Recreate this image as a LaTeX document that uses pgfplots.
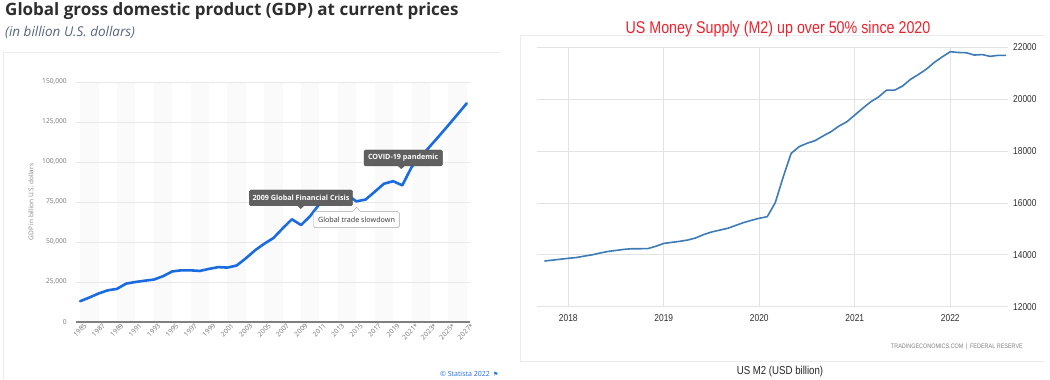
\documentclass[border=0pt]{standalone}
\usepackage{pgfplots}
\pgfplotsset{compat=1.18}
\usepackage{fontspec}
\setmainfont{Open Sans}
\newfontfamily\te{Liberation Sans}[FakeStretch=0.84]
\newfontfamily\djsym{DejaVu Sans}
\definecolor{gdpblue}{HTML}{1A6BE0}
\definecolor{subcol}{HTML}{56657F}
\definecolor{mred}{HTML}{F0202A}
\definecolor{m2blue}{HTML}{3C7BB6}
\definecolor{boxgray}{HTML}{606060}
\definecolor{stablue}{HTML}{1A6BE0}
\definecolor{band}{HTML}{FAFAFA}

\pgfplotstableread{
year gdp
1985 13000
1986 15300
1987 17800
1988 19800
1989 20700
1990 24000
1991 25000
1992 25800
1993 26500
1994 28600
1995 31600
1996 32300
1997 32300
1998 31900
1999 33200
2000 34300
2001 34000
2002 35300
2003 39800
2004 44800
2005 48900
2006 52500
2007 58500
2008 64200
2009 60600
2010 66300
2011 73800
2012 75300
2013 77500
2014 79600
2015 75400
2016 76500
2017 81400
2018 86400
2019 88000
2020 85400
2021 96800
2022 103300
2023 109800
2024 116300
2025 123000
2026 129800
2027 136700
}\gdptable

\pgfplotstableread{
t m2
2017.750 13760
2017.833 13795
2017.917 13830
2018.000 13865
2018.083 13895
2018.167 13950
2018.250 14000
2018.333 14070
2018.417 14130
2018.500 14170
2018.583 14210
2018.667 14235
2018.750 14235
2018.833 14240
2018.917 14330
2019.000 14440
2019.083 14480
2019.167 14520
2019.250 14570
2019.333 14650
2019.417 14780
2019.500 14880
2019.583 14950
2019.667 15020
2019.750 15130
2019.833 15240
2019.917 15330
2020.000 15410
2020.083 15470
2020.167 16010
2020.250 17000
2020.333 17910
2020.417 18170
2020.500 18300
2020.583 18400
2020.667 18580
2020.750 18745
2020.833 18960
2020.917 19130
2021.000 19390
2021.083 19650
2021.167 19900
2021.250 20090
2021.333 20350
2021.417 20350
2021.500 20505
2021.583 20765
2021.667 20955
2021.750 21160
2021.833 21420
2021.917 21635
2022.000 21830
2022.083 21800
2022.167 21790
2022.250 21700
2022.333 21720
2022.417 21650
2022.500 21690
2022.583 21690
}\mtwotable

\begin{document}
\begin{tikzpicture}
\path[use as bounding box] (0,0) rectangle (1050pt,380pt);

% ---------- left card ----------
\draw[black!7, line width=1pt] (3.5pt,0pt) -- (3.5pt,327pt) -- (500pt,327pt);
\node[anchor=base west, inner sep=0pt, font=\fontsize{17}{20}\selectfont\bfseries, text=black!82] at (5pt,364pt) {Global gross domestic product (GDP) at current prices};
\node[anchor=base west, inner sep=0pt, font=\fontsize{13.5}{16}\selectfont\itshape, text=subcol] at (5pt,343pt) {(in billion U.S. dollars)};

\begin{axis}[at={(76pt,58pt)}, anchor=south west, scale only axis,
  width=394pt, height=240pt,
  xmin=1984.55, xmax=2027.35, ymin=0, ymax=150000,
  scaled ticks=false, axis on top,
  axis x line*=bottom, axis y line*=left,
  x axis line style={-, draw=black!50, line width=1.2pt},
  y axis line style={draw=none},
  major tick length=0pt,
  ytick={0,25000,50000,75000,100000,125000,150000},
  yticklabels={0,{25,000},{50,000},{75,000},{100,000},{125,000},{150,000}},
  xtick={1985,1987,...,2027},
  xticklabels={1985,1987,1989,1991,1993,1995,1997,1999,2001,2003,2005,2007,2009,2011,2013,2015,2017,2019,2021*,2023*,2025*,2027*},
  tick label style={font=\fontsize{6.7}{7}\selectfont, text=black!55},
  xticklabel style={rotate=45, anchor=north east, inner sep=1pt, xshift=3pt, yshift=-2pt},
  yticklabel style={anchor=east, inner sep=0pt, xshift=-9pt},
]
\pgfplotsinvokeforeach{1985,1989,1993,1997,2001,2005,2009,2013,2017,2021,2025}{
  \fill[band] (axis cs:#1,0) rectangle (axis cs:{#1+2},150000);
}
\pgfplotsinvokeforeach{25000,50000,75000,100000,125000,150000}{
  \draw[black!9, line width=0.8pt] (axis cs:1984.55,#1) -- (axis cs:2027.35,#1);
}
\addplot[gdpblue, line width=2.6pt, line join=round, line cap=round] table[x=year, y=gdp] {\gdptable};
\end{axis}

\node[rotate=90, font=\fontsize{6.5}{7}\selectfont, text=black!50] at (31pt,178pt) {GDP in billion U.S. dollars};

% annotations
\draw[draw=black!72, fill=boxgray, rounded corners=1.5pt] (249.3pt,174.3pt) rectangle (352.7pt,190pt);
\fill[boxgray] (296.7pt,174.8pt) -- (304.7pt,174.8pt) -- (300.7pt,171pt) -- cycle;
\node[font=\fontsize{7.2}{8}\selectfont\bfseries, text=white, inner sep=0pt] at (301pt,182.2pt) {2009 Global Financial Crisis};

\draw[draw=black!72, fill=boxgray, rounded corners=1.5pt] (364pt,214pt) rectangle (442.3pt,230pt);
\fill[boxgray] (397.3pt,214.5pt) -- (405.3pt,214.5pt) -- (401.3pt,211pt) -- cycle;
\node[font=\fontsize{7.2}{8}\selectfont\bfseries, text=white, inner sep=0pt] at (403.2pt,222pt) {COVID-19 pandemic};

\draw[draw=black!35, fill=white, rounded corners=1.5pt] (313.7pt,152.3pt) rectangle (399.3pt,168.3pt);
\filldraw[draw=black!35, fill=white] (352.7pt,168.3pt) -- (356.7pt,172.7pt) -- (360.7pt,168.3pt);
\fill[white] (353.2pt,167.8pt) rectangle (360.2pt,168.8pt);
\node[font=\fontsize{7.2}{8}\selectfont, text=black!80, inner sep=0pt] at (356.5pt,160.3pt) {Global trade slowdown};

\node[anchor=east, font=\fontsize{7}{8}\selectfont, text=stablue, inner sep=0pt] at (490pt,6pt) {© Statista 2022};
\node[anchor=west, font=\djsym\fontsize{6}{7}\selectfont, text=stablue, inner sep=0pt] at (493pt,6pt) {⚑};

% ---------- right panel ----------
\draw[black!8, line width=0.8pt] (1045pt,345pt) -- (520pt,345pt) -- (520pt,18.3pt) -- (1045pt,18.3pt);
\node[font=\te\fontsize{17}{20}\selectfont, text=mred] at (778pt,351pt) {US Money Supply (M2) up over 50\% since 2020};

\begin{axis}[at={(537pt,73.3pt)}, anchor=south west, scale only axis,
  width=471pt, height=259.4pt,
  xmin=2017.672, xmax=2022.604, ymin=12000, ymax=22000,
  scaled ticks=false,
  axis line style={draw=none}, major tick length=0pt,
  xtick={2018,2019,2020,2021,2022},
  xticklabels={2018,2019,2020,2021,2022},
  ytick={12000,14000,16000,18000,20000,22000},
  yticklabels={12000,14000,16000,18000,20000,22000},
  yticklabel pos=right,
  grid=major, grid style={black!11, line width=0.7pt},
  tick label style={font=\te\fontsize{10}{12}\selectfont, text=black!82},
  yticklabel style={anchor=west, inner sep=0pt, xshift=5pt},
  xticklabel style={anchor=north, inner sep=0pt, yshift=-8pt},
]
\addplot[m2blue, line width=1.6pt, line join=round] table[x=t, y=m2] {\mtwotable};
\end{axis}

\node[anchor=east, font=\te\fontsize{6.5}{8}\selectfont, text=black!50, inner sep=0pt] at (1023pt,33pt) {TRADINGECONOMICS.COM \,|\, FEDERAL RESERVE};
\node[font=\te\fontsize{11.5}{13}\selectfont, text=black!85] at (780pt,8pt) {US M2 (USD billion)};
\end{tikzpicture}
\end{document}
